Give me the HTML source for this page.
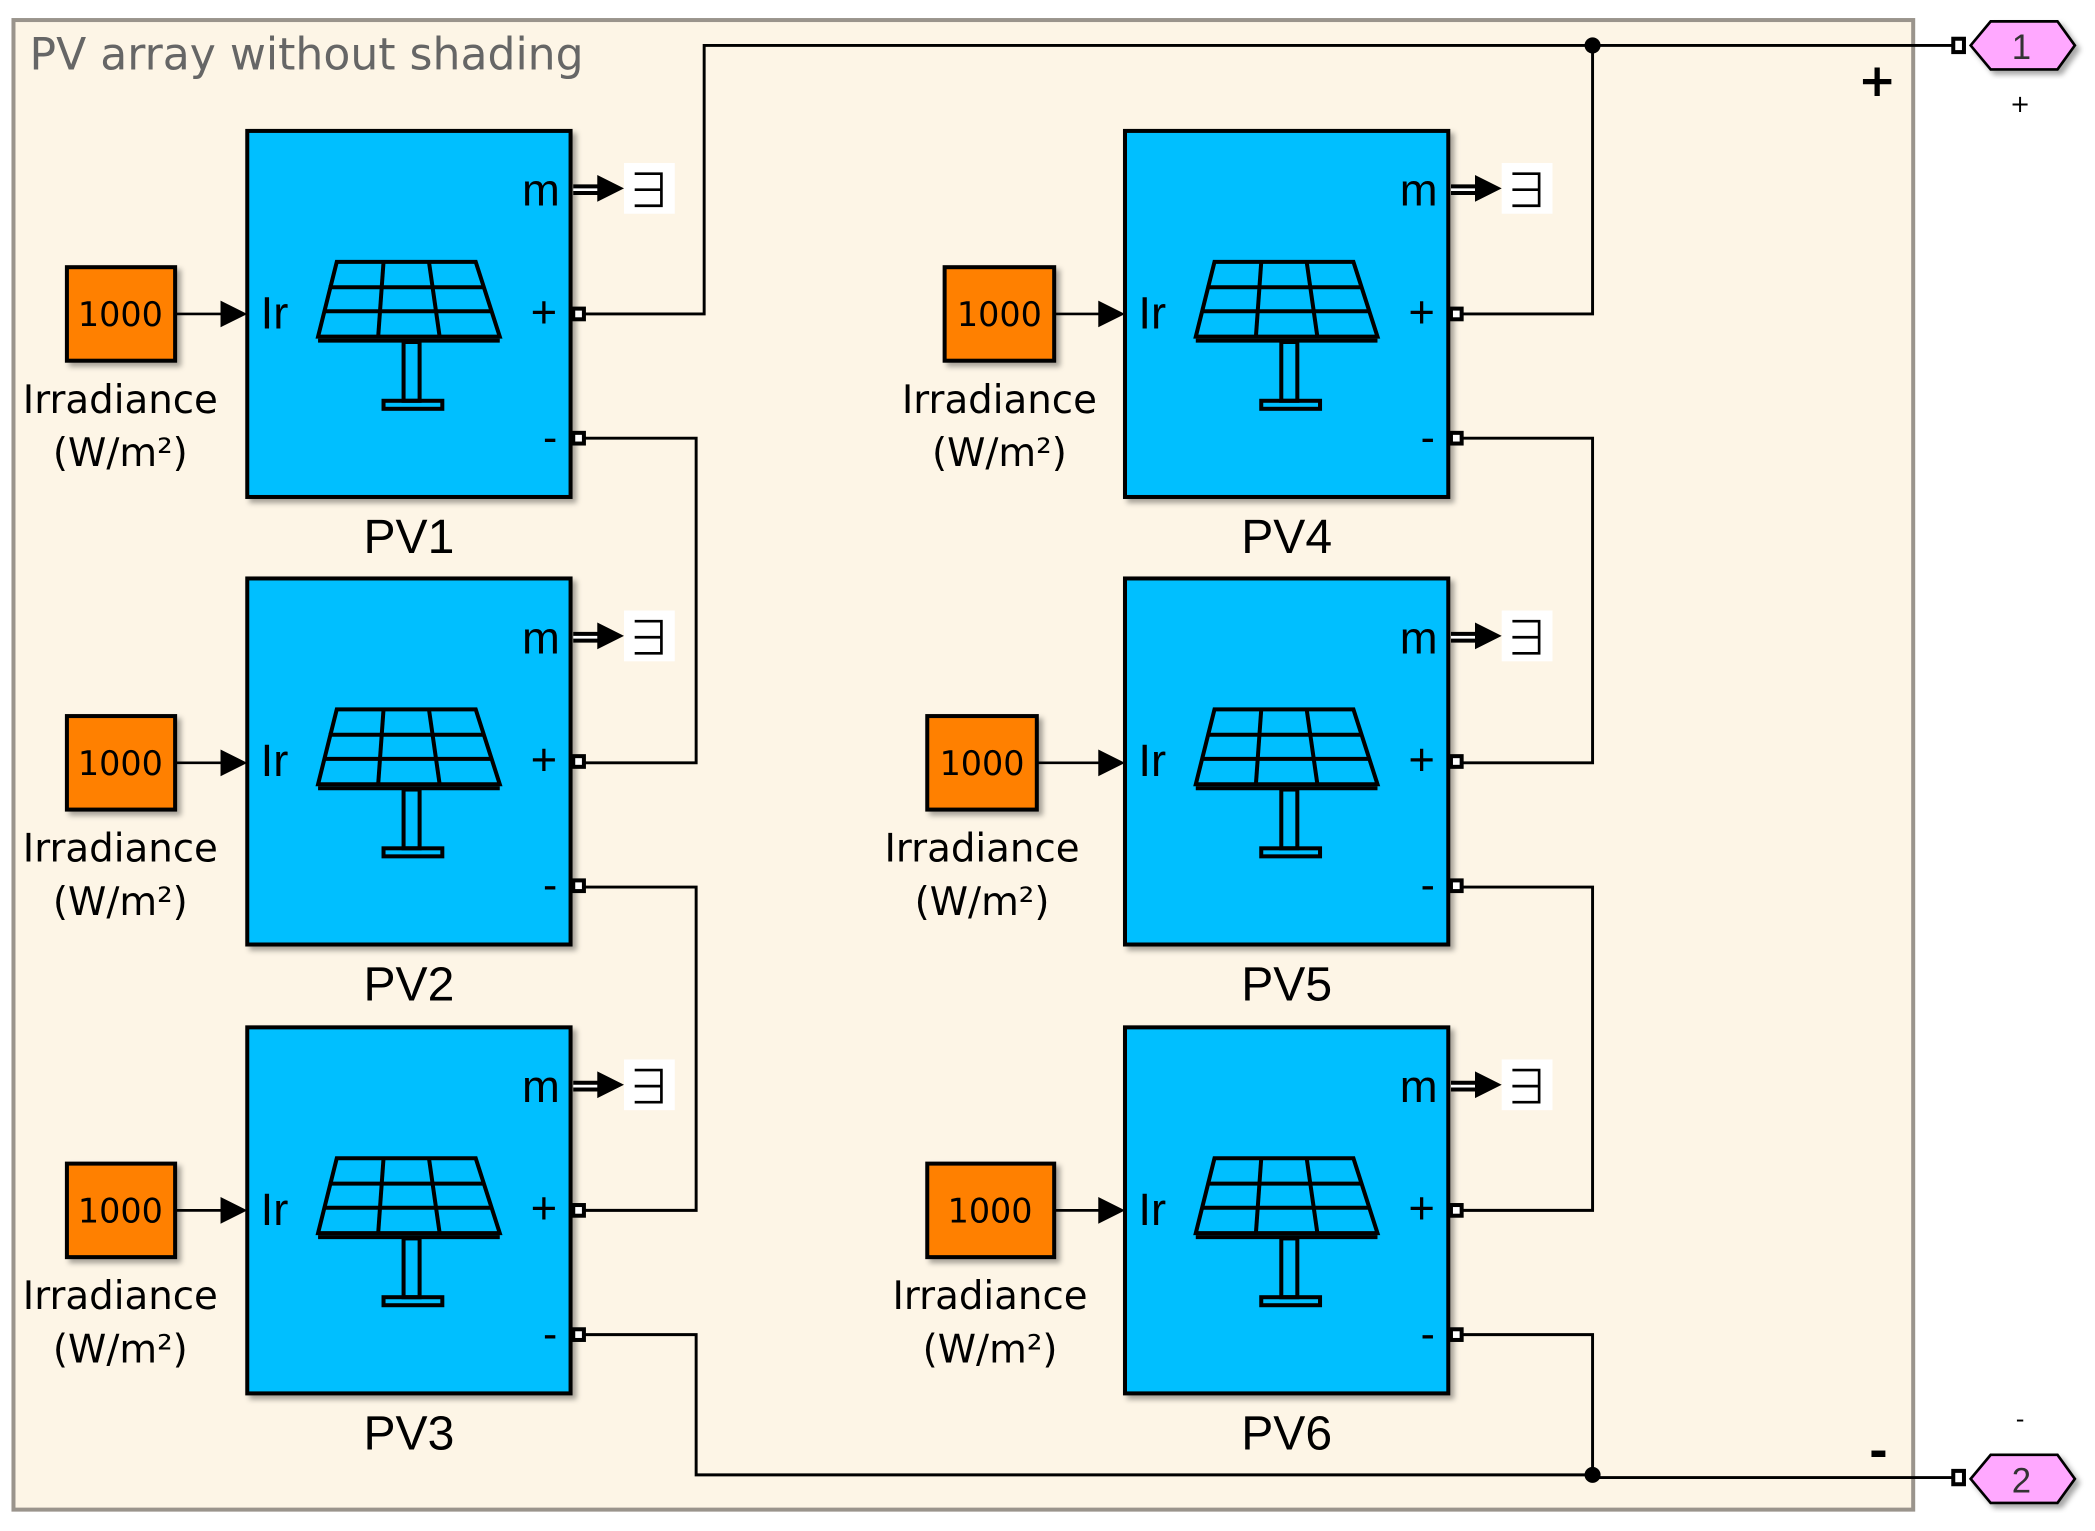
<!DOCTYPE html>
<html><head><meta charset="utf-8"><style>
html,body{margin:0;padding:0;background:#fff;}
svg{display:block;}
text{font-family:"DejaVu Sans","Liberation Sans",sans-serif;}
.a{font-family:"Liberation Sans",sans-serif;}
</style></head><body>
<svg width="2095" height="1531" viewBox="0 0 1568 1146" xmlns="http://www.w3.org/2000/svg">
<defs>
<filter id="sh" x="-10%" y="-10%" width="130%" height="130%"><feDropShadow dx="3" dy="3" stdDeviation="2" flood-color="#000" flood-opacity="0.35"/></filter>
<g id="panel" fill="none" stroke="#000" stroke-width="3">
<polygon points="67,98 171,98 189,154 53,154"/>
<line x1="61" y1="117" x2="177" y2="117"/>
<line x1="57" y1="135" x2="183" y2="135"/>
<line x1="102" y1="98" x2="98" y2="154"/>
<line x1="136" y1="98" x2="144" y2="154"/>
<line x1="53" y1="157" x2="189" y2="157"/>
<rect x="117" y="158" width="12" height="44"/>
<rect x="102" y="202" width="44" height="6"/>
</g>
<g id="mout">
<line x1="244" y1="44" x2="264" y2="44" stroke="#000" stroke-width="8"/>
<line x1="244" y1="44" x2="266" y2="44" stroke="#fff" stroke-width="2"/>
<polygon points="262,33 282,43 262,53" fill="#000"/>
<rect x="282" y="24" width="38" height="38" fill="#fff"/>
<path d="M290,32 H310 V56 H290 M290,44 H310" fill="none" stroke="#000" stroke-width="2"/>
<rect x="244" y="133" width="8" height="8" fill="#fff" stroke="#000" stroke-width="3"/>
<rect x="244" y="226" width="8" height="8" fill="#fff" stroke="#000" stroke-width="3"/>
</g>
</defs>
<rect x="10" y="15" width="1422" height="1115" fill="#fdf5e6" stroke="#9a948c" stroke-width="3"/>
<text x="22" y="52" font-size="33" fill="#666">PV array without shading</text>
<text x="1405" y="72" font-size="34" font-weight="bold" text-anchor="middle">+</text>
<text x="1406" y="1098" font-size="34" font-weight="bold" text-anchor="middle">-</text>

<g fill="none" stroke="#000" stroke-width="2.2">
<polyline points="437,235 527,235 527,34 1467,34"/>
<polyline points="1094,235 1192,235 1192,34"/>
<polyline points="437,328 521,328 521,571 437,571"/>
<polyline points="437,664 521,664 521,906 437,906"/>
<polyline points="437,999 521,999 521,1104 1192,1104 1192,1106 1467,1106"/>
<polyline points="1094,328 1192,328 1192,571 1094,571"/>
<polyline points="1094,664 1192,664 1192,906 1094,906"/>
<polyline points="1094,999 1192,999 1192,1104"/>
</g>
<circle cx="1192" cy="34" r="6"/>
<circle cx="1192" cy="1104" r="6"/>
<rect x="1462" y="29" width="8" height="10" fill="#fff" stroke="#000" stroke-width="3"/>
<rect x="1462" y="1101" width="8" height="10" fill="#fff" stroke="#000" stroke-width="3"/>
<polygon points="1475,34 1490,16 1540,16 1553,34 1540,52 1490,52" fill="#ffa8ff" stroke="#000" stroke-width="2" filter="url(#sh)"/>
<text x="1513" y="44" font-size="26" text-anchor="middle" fill="#333" class="a">1</text>
<text x="1512" y="84" font-size="18" text-anchor="middle">+</text>
<polygon points="1475,1107 1490,1089 1540,1089 1553,1107 1540,1125 1490,1125" fill="#ffa8ff" stroke="#000" stroke-width="2" filter="url(#sh)"/>
<text x="1513" y="1117" font-size="26" text-anchor="middle" fill="#333" class="a">2</text>
<text x="1512" y="1068" font-size="18" text-anchor="middle">-</text>

<g transform="translate(185,98)">
<rect width="242" height="274" fill="#00bfff" stroke="#000" stroke-width="3" filter="url(#sh)"/>
<use href="#panel"/><use href="#mout"/>
<text x="234" y="56" font-size="34" text-anchor="end" class="a">m</text>
<text x="10" y="148" font-size="34" class="a">Ir</text>
<text x="232" y="147" font-size="34" text-anchor="end" class="a">+</text>
<text x="232" y="240" font-size="32" text-anchor="end" class="a">-</text>
<text x="121" y="316" font-size="36" text-anchor="middle" class="a">PV1</text>
</g>
<g transform="translate(185,433)">
<rect width="242" height="274" fill="#00bfff" stroke="#000" stroke-width="3" filter="url(#sh)"/>
<use href="#panel"/><use href="#mout"/>
<text x="234" y="56" font-size="34" text-anchor="end" class="a">m</text>
<text x="10" y="148" font-size="34" class="a">Ir</text>
<text x="232" y="147" font-size="34" text-anchor="end" class="a">+</text>
<text x="232" y="240" font-size="32" text-anchor="end" class="a">-</text>
<text x="121" y="316" font-size="36" text-anchor="middle" class="a">PV2</text>
</g>
<g transform="translate(185,769)">
<rect width="242" height="274" fill="#00bfff" stroke="#000" stroke-width="3" filter="url(#sh)"/>
<use href="#panel"/><use href="#mout"/>
<text x="234" y="56" font-size="34" text-anchor="end" class="a">m</text>
<text x="10" y="148" font-size="34" class="a">Ir</text>
<text x="232" y="147" font-size="34" text-anchor="end" class="a">+</text>
<text x="232" y="240" font-size="32" text-anchor="end" class="a">-</text>
<text x="121" y="316" font-size="36" text-anchor="middle" class="a">PV3</text>
</g>
<g transform="translate(842,98)">
<rect width="242" height="274" fill="#00bfff" stroke="#000" stroke-width="3" filter="url(#sh)"/>
<use href="#panel"/><use href="#mout"/>
<text x="234" y="56" font-size="34" text-anchor="end" class="a">m</text>
<text x="10" y="148" font-size="34" class="a">Ir</text>
<text x="232" y="147" font-size="34" text-anchor="end" class="a">+</text>
<text x="232" y="240" font-size="32" text-anchor="end" class="a">-</text>
<text x="121" y="316" font-size="36" text-anchor="middle" class="a">PV4</text>
</g>
<g transform="translate(842,433)">
<rect width="242" height="274" fill="#00bfff" stroke="#000" stroke-width="3" filter="url(#sh)"/>
<use href="#panel"/><use href="#mout"/>
<text x="234" y="56" font-size="34" text-anchor="end" class="a">m</text>
<text x="10" y="148" font-size="34" class="a">Ir</text>
<text x="232" y="147" font-size="34" text-anchor="end" class="a">+</text>
<text x="232" y="240" font-size="32" text-anchor="end" class="a">-</text>
<text x="121" y="316" font-size="36" text-anchor="middle" class="a">PV5</text>
</g>
<g transform="translate(842,769)">
<rect width="242" height="274" fill="#00bfff" stroke="#000" stroke-width="3" filter="url(#sh)"/>
<use href="#panel"/><use href="#mout"/>
<text x="234" y="56" font-size="34" text-anchor="end" class="a">m</text>
<text x="10" y="148" font-size="34" class="a">Ir</text>
<text x="232" y="147" font-size="34" text-anchor="end" class="a">+</text>
<text x="232" y="240" font-size="32" text-anchor="end" class="a">-</text>
<text x="121" y="316" font-size="36" text-anchor="middle" class="a">PV6</text>
</g>

<g font-size="25" text-anchor="middle">
<rect x="50" y="200" width="81" height="70" fill="#ff8000" stroke="#000" stroke-width="3" filter="url(#sh)"/>
<text x="90" y="244">1000</text>
<rect x="50" y="536" width="81" height="70" fill="#ff8000" stroke="#000" stroke-width="3" filter="url(#sh)"/>
<text x="90" y="580">1000</text>
<rect x="50" y="871" width="81" height="70" fill="#ff8000" stroke="#000" stroke-width="3" filter="url(#sh)"/>
<text x="90" y="915">1000</text>
<rect x="707" y="200" width="82" height="70" fill="#ff8000" stroke="#000" stroke-width="3" filter="url(#sh)"/>
<text x="748" y="244">1000</text>
<rect x="694" y="536" width="82" height="70" fill="#ff8000" stroke="#000" stroke-width="3" filter="url(#sh)"/>
<text x="735" y="580">1000</text>
<rect x="694" y="871" width="95" height="70" fill="#ff8000" stroke="#000" stroke-width="3" filter="url(#sh)"/>
<text x="741" y="915">1000</text>
</g>
<g stroke="#000" stroke-width="2">
<line x1="131" y1="235" x2="170" y2="235"/><line x1="131" y1="571" x2="170" y2="571"/><line x1="131" y1="906" x2="170" y2="906"/>
<line x1="789" y1="235" x2="827" y2="235"/><line x1="776" y1="571" x2="827" y2="571"/><line x1="789" y1="906" x2="827" y2="906"/>
</g>
<g fill="#000">
<polygon points="165,225 185,235 165,245"/><polygon points="165,561 185,571 165,581"/><polygon points="165,896 185,906 165,916"/>
<polygon points="822,225 842,235 822,245"/><polygon points="822,561 842,571 822,581"/><polygon points="822,896 842,906 822,916"/>
</g>
<g font-size="29" text-anchor="middle">
<text x="90" y="309">Irradiance</text><text x="90" y="349">(W/m²)</text>
<text x="90" y="645">Irradiance</text><text x="90" y="685">(W/m²)</text>
<text x="90" y="980">Irradiance</text><text x="90" y="1020">(W/m²)</text>
<text x="748" y="309">Irradiance</text><text x="748" y="349">(W/m²)</text>
<text x="735" y="645">Irradiance</text><text x="735" y="685">(W/m²)</text>
<text x="741" y="980">Irradiance</text><text x="741" y="1020">(W/m²)</text>
</g>
</svg>
</body></html>
